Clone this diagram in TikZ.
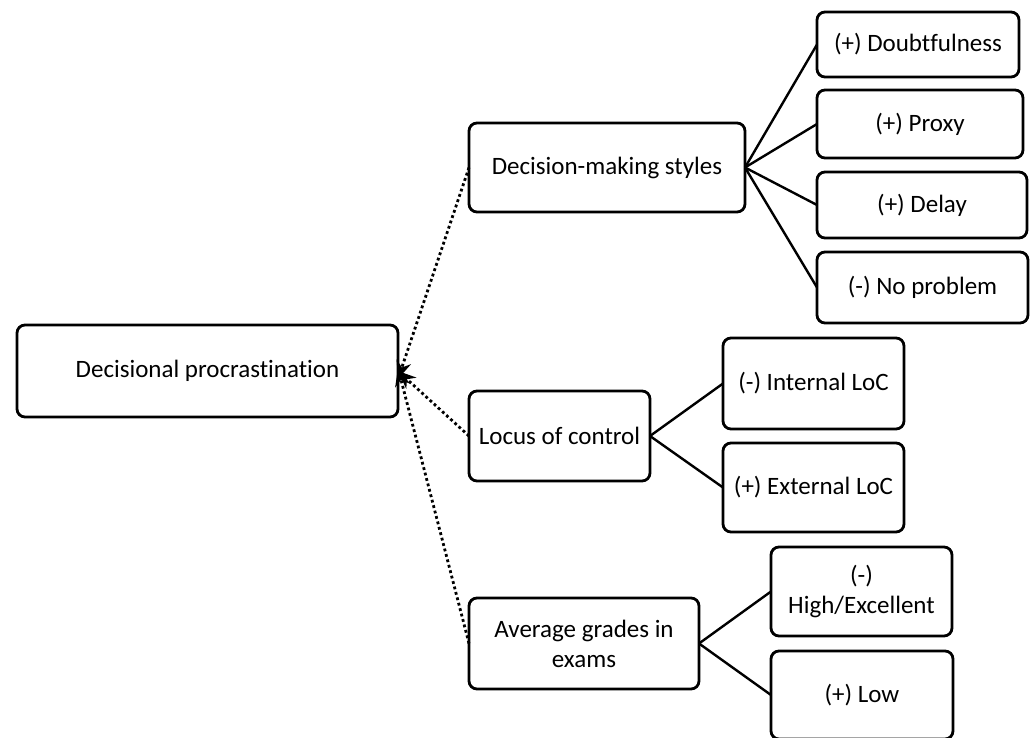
\documentclass[tikz,border=0pt]{standalone}
\usepackage{fontspec}
\setmainfont[Ligatures={NoCommon}]{Carlito}
\usetikzlibrary{arrows.meta}
\begin{document}
\begin{tikzpicture}[x=1pt,y=-1pt,
  box/.style={draw=black, line width=2.8pt, rounded corners=8pt, inner sep=0pt, outer sep=0pt, align=center, font=\fontsize{25}{30}\selectfont},
  fan/.style={draw=black, line width=2.4pt},
  dotarrow/.style={draw=black, line width=2.8pt, dash pattern=on 2.8pt off 2.8pt, -{Stealth[length=18pt,width=15pt]}}]
\useasboundingbox (0,0) rectangle (1034,738);
\node[box, minimum width=381pt, minimum height=92pt] (dp) at (207.5,371) {Decisional procrastination};
\node[box, minimum width=276pt, minimum height=89pt] (dms) at (607,167.5) {Decision-making styles};
\node[box, minimum width=181pt, minimum height=90pt] (loc) at (559.5,436) {Locus of control};
\node[box, minimum width=230pt, minimum height=91pt] (avg) at (584,643.5) {Average grades in\\exams};
\node[box, minimum width=202pt, minimum height=65pt] (doubt) at (918,44.5) {(+) Doubtfulness};
\node[box, minimum width=206pt, minimum height=68pt] (proxy) at (920,124) {(+) Proxy};
\node[box, minimum width=210pt, minimum height=66pt] (delay) at (922,205) {(+) Delay};
\node[box, minimum width=211pt, minimum height=71pt] (noprob) at (922.5,287.5) {(-) No problem};
\node[box, minimum width=181pt, minimum height=91pt] (intloc) at (813.5,383.5) {(-) Internal LoC};
\node[box, minimum width=181pt, minimum height=89pt] (extloc) at (813.5,487.5) {(+) External LoC};
\node[box, minimum width=181pt, minimum height=89pt] (high) at (861.5,591.5) {(-)\\High/Excellent};
\node[box, minimum width=182pt, minimum height=88pt] (low) at (862,695) {(+) Low};
\draw[fan] (dms.east) -- (doubt.west);
\draw[fan] (dms.east) -- (proxy.west);
\draw[fan] (dms.east) -- (delay.west);
\draw[fan] (dms.east) -- (noprob.west);
\draw[fan] (loc.east) -- (intloc.west);
\draw[fan] (loc.east) -- (extloc.west);
\draw[fan] (avg.east) -- (high.west);
\draw[fan] (avg.east) -- (low.west);
\draw[dotarrow] (dms.west) -- ([yshift=-8pt]dp.east);
\draw[dotarrow] (loc.west) -- (dp.east);
\draw[dotarrow] (avg.west) -- ([yshift=3pt]dp.east);
\end{tikzpicture}
\end{document}
